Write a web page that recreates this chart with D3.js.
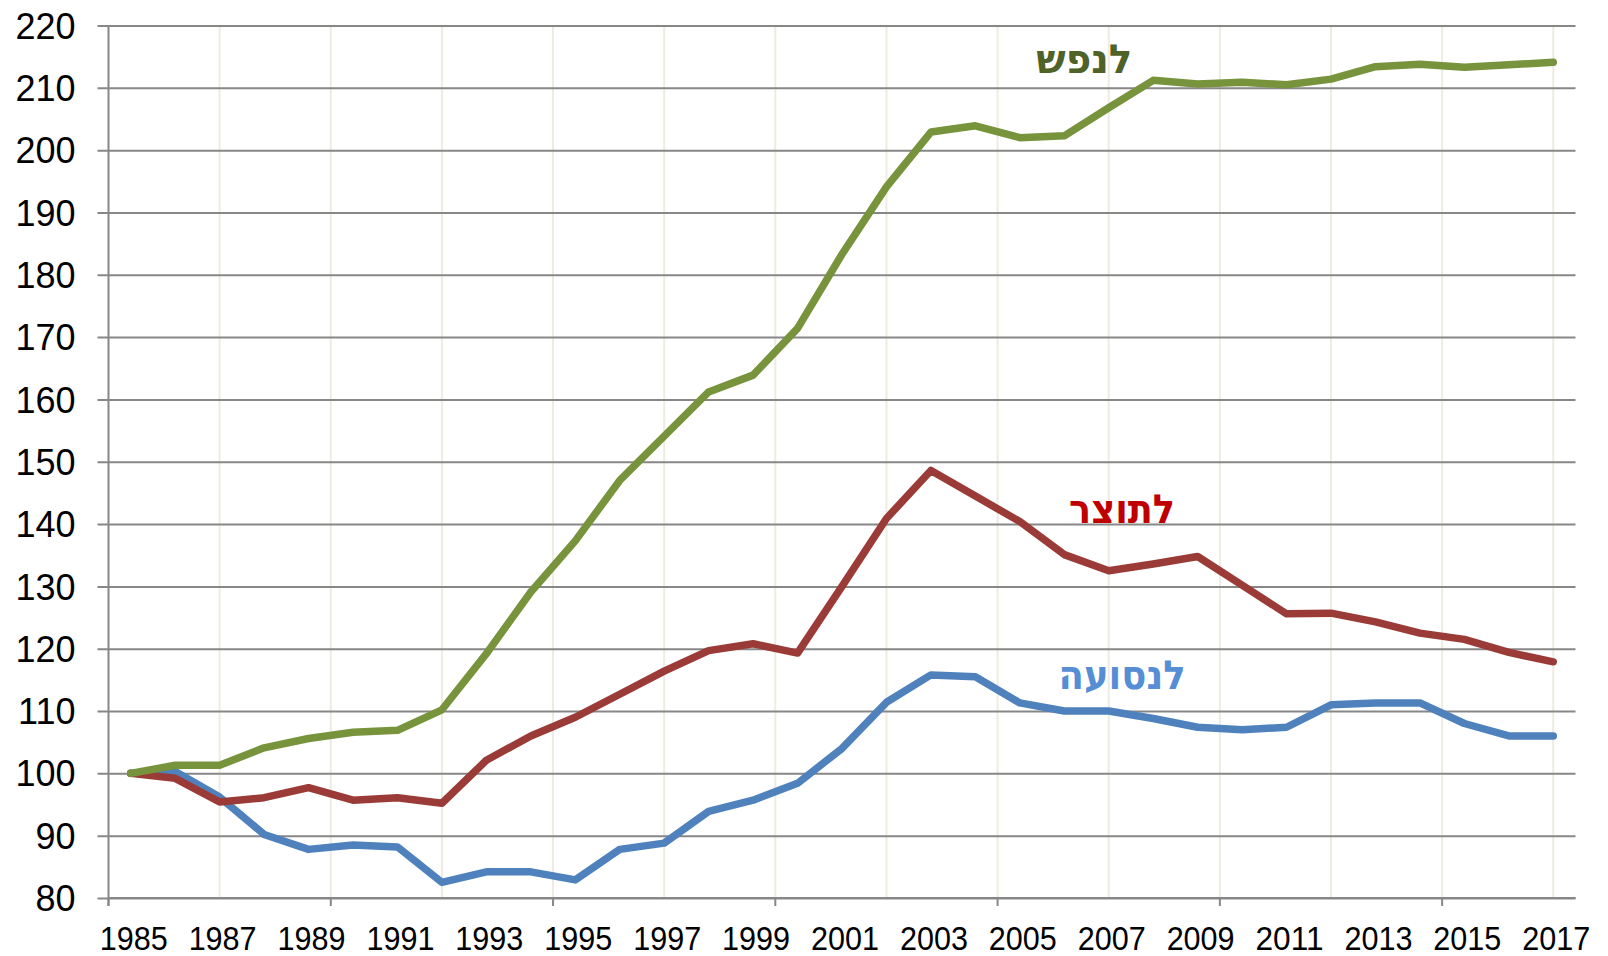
<!DOCTYPE html>
<html>
<head>
<meta charset="utf-8">
<script src="https://cdn.jsdelivr.net/npm/d3@7"></script>
<style>
  body { margin: 0; background: #fff; }
  text { font-family: "Liberation Sans", Arial, sans-serif; }
</style>
</head>
<body>
<svg id="chart"></svg>
<script>
var years = d3.range(1985, 2018)
var perCapita = [100, 101.3, 101.3, 104.1, 105.6, 106.6, 106.9, 110.2, 119.2, 129.1, 137.3, 147.0, 154.1, 161.2, 163.9, 171.4, 183.3, 194.1, 202.9, 203.9, 202.0, 202.3, 206.8, 211.2, 210.6, 210.9, 210.5, 211.4, 213.4, 213.8, 213.3, 213.7, 214.1]
var perProduct = [100, 99.2, 95.4, 96.1, 97.7, 95.7, 96.1, 95.2, 102.1, 106.0, 109.0, 112.7, 116.4, 119.7, 120.8, 119.3, 130.0, 140.9, 148.6, 144.5, 140.4, 135.1, 132.5, 133.6, 134.8, 130.2, 125.6, 125.7, 124.3, 122.5, 121.5, 119.4, 117.9]
var perPassenger = [100, 100.3, 96.2, 90.2, 87.8, 88.5, 88.2, 82.5, 84.2, 84.2, 82.9, 87.8, 88.8, 93.9, 95.7, 98.4, 104.0, 111.4, 115.8, 115.5, 111.3, 110.0, 110.0, 108.8, 107.4, 107.0, 107.4, 111.0, 111.3, 111.3, 108.0, 106.0, 106.0]
var yTicks = d3.range(80, 221, 10)
var xLabels = d3.range(1985, 2018, 2)
var seriesNames = ["לנסועה", "לתוצר", "לנפש"]
var seriesColors = ["#4F81BD", "#9B3B37", "#77933C"]
var labelColors = ["#558ED5", "#C00000", "#4F6228"]
var labelYears = [2007.3, 2007.3, 2006.45]
var labelValues = [113.5, 140.2, 212.4]
var labelWidths = [127, 106, 96]

var width = 1608, height = 956
var margin = { top: 25.5, right: 32.5, bottom: 58, left: 108.5 }

var svg = d3.select("#chart").attr("width", width).attr("height", height)

var xScale = d3.scaleLinear().domain([1984.5, 2017.5]).range([margin.left, width - margin.right])
var yScale = d3.scaleLinear().domain([80, 220]).range([height - margin.bottom, margin.top])

//------------- vertical grid (every 2.5 years)
var vGrid = d3.range(1987, 2017.01, 2.5)
svg.append("g").selectAll("line").data(vGrid).join("line")
    .attr("x1", d => xScale(d)).attr("x2", d => xScale(d))
    .attr("y1", yScale(220)).attr("y2", yScale(80))
    .attr("stroke", "#EEECE1").attr("stroke-width", 2)

//------------- horizontal grid + y axis labels
svg.append("g")
    .attr("transform", "translate(" + margin.left + ",0)")
    .call(d3.axisLeft(yScale).tickValues(yTicks).tickSize(11).tickPadding(22).tickFormat(d3.format("d")))
    .call(g => g.select(".domain").remove())
    .call(g => g.selectAll(".tick line").attr("x2", xScale(2017.5) - margin.left).attr("x1", -11)
        .attr("stroke", "#878787").attr("stroke-width", 2))
    .call(g => g.selectAll(".tick text").attr("font-size", 36).attr("fill", "#000").attr("dy", "0.35em")
        .style("font-family", "'Liberation Sans', Arial, sans-serif"))

// y axis line
svg.append("line").attr("x1", xScale(1984.5)).attr("x2", xScale(1984.5))
    .attr("y1", yScale(220)).attr("y2", yScale(80) + 8)
    .attr("stroke", "#878787").attr("stroke-width", 2)

//------------- x axis, ticks every 5 years
var xTickVals = d3.range(1984.5, 2017.5, 5)
svg.append("g").selectAll("line").data(xTickVals).join("line")
    .attr("x1", d => xScale(d)).attr("x2", d => xScale(d))
    .attr("y1", yScale(80)).attr("y2", yScale(80) + 8)
    .attr("stroke", "#878787").attr("stroke-width", 2)
svg.append("line").attr("x1", xScale(1984.5)).attr("x2", xScale(2017.5))
    .attr("y1", yScale(80)).attr("y2", yScale(80))
    .attr("stroke", "#878787").attr("stroke-width", 2)

svg.append("g").selectAll("text").data(xLabels).join("text")
    .attr("x", d => xScale(d) + 3)
    .attr("y", yScale(80) + 52)
    .attr("text-anchor", "middle")
    .attr("font-size", 33)
    .attr("textLength", 68).attr("lengthAdjust", "spacingAndGlyphs")
    .attr("fill", "#000")
    .text(d => d)

//------------- lines
var allSeries = [perPassenger, perProduct, perCapita]
var lineGenerator = d3.line().x((d, i) => xScale(years[i])).y(d => yScale(d))
svg.append("g").selectAll("path").data(allSeries).join("path")
    .attr("d", d => lineGenerator(d))
    .attr("fill", "none")
    .attr("stroke", (d, i) => seriesColors[i])
    .attr("stroke-width", 7.5)
    .attr("stroke-linejoin", "round")
    .attr("stroke-linecap", "round")

//------------- series labels
svg.append("g").selectAll("text").data(seriesNames).join("text")
    .attr("x", (d, i) => xScale(labelYears[i]))
    .attr("y", (d, i) => yScale(labelValues[i]))
    .attr("text-anchor", "middle")
    .attr("font-size", 40)
    .attr("font-weight", "bold")
    .style("font-family", "'DejaVu Sans', sans-serif")
    .attr("textLength", (d, i) => labelWidths[i]).attr("lengthAdjust", "spacingAndGlyphs")
    .attr("fill", (d, i) => labelColors[i])
    .text(d => d)
</script>
</body>
</html>
